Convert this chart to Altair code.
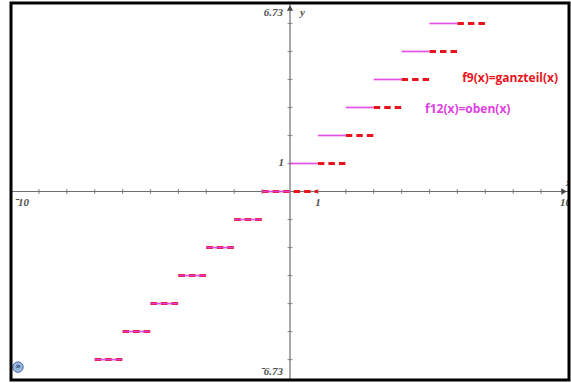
import altair as alt
import pandas as pd

# ---- values ----
x_domain = [-10, 10]
y_domain = [-6.73, 6.73]

# f9(x)=ganzteil(x)  (integer part, red dashed)
ganz_level = [-6, -5, -4, -3, -2, -1, 0, 1, 2, 3, 4, 5, 6]
ganz_from = [-7, -6, -5, -4, -3, -2, -1, 1, 2, 3, 4, 5, 6]
ganz_to = [-6, -5, -4, -3, -2, -1, 1, 2, 3, 4, 5, 6, 7]

# f12(x)=oben(x)  (ceiling, magenta solid)
oben_level = [-6, -5, -4, -3, -2, -1, 0, 1, 2, 3, 4, 5, 6]
oben_from = [-7, -6, -5, -4, -3, -2, -1, 0, 1, 2, 3, 4, 5]
oben_to = [-6, -5, -4, -3, -2, -1, 0, 1, 2, 3, 4, 5, 6]

x_ticks = [-9, -8, -7, -6, -5, -4, -3, -2, -1, 1, 2, 3, 4, 5, 6, 7, 8, 9]
y_ticks = [-6, -5, -4, -3, -2, -1, 1, 2, 3, 4, 5, 6]

RED = "#e8141c"
MAG = "#e040e0"
AX = "#6e6e6e"
LBL = "#505050"

W, H = 558, 377
xs = alt.Scale(domain=x_domain, nice=False, zero=False)
ys = alt.Scale(domain=y_domain, nice=False, zero=False)
X = lambda f: alt.X(f, type="quantitative", scale=xs, axis=None)
Y = lambda f: alt.Y(f, type="quantitative", scale=ys, axis=None)

ganz = pd.DataFrame({"y": ganz_level, "x": ganz_from, "x2": ganz_to})
oben = pd.DataFrame({"y": oben_level, "x": oben_from, "x2": oben_to})
one = pd.DataFrame({"a": [0]})

x_axis = alt.Chart(pd.DataFrame({"x": [x_domain[0]], "x2": [x_domain[1]], "y": [0]})).mark_rule(
    color=AX, strokeWidth=1.2).encode(x=X("x"), x2="x2", y=Y("y"))
y_axis = alt.Chart(pd.DataFrame({"y": [y_domain[0]], "y2": [y_domain[1]], "x": [0]})).mark_rule(
    color=AX, strokeWidth=1.2).encode(y=Y("y"), y2="y2", x=X("x"))
xt = alt.Chart(pd.DataFrame({"x": x_ticks, "y": [0] * len(x_ticks)})).mark_tick(
    orient="vertical", size=5, thickness=1.2, color=AX).encode(x=X("x"), y=Y("y"))
yt = alt.Chart(pd.DataFrame({"y": y_ticks, "x": [0] * len(y_ticks)})).mark_tick(
    orient="horizontal", size=5, thickness=1.2, color=AX).encode(x=X("x"), y=Y("y"))
arrow_up = alt.Chart(pd.DataFrame({"x": [0], "y": [y_domain[1]]})).mark_point(
    shape="triangle-up", filled=True, size=40, color="#444", opacity=1, yOffset=5).encode(x=X("x"), y=Y("y"))
arrow_right = alt.Chart(pd.DataFrame({"x": [x_domain[1]], "y": [0]})).mark_point(
    shape="triangle-right", filled=True, size=40, color="#444", opacity=1, xOffset=-5).encode(x=X("x"), y=Y("y"))

ganz_l = alt.Chart(ganz).mark_rule(color=RED, strokeWidth=3, strokeDash=[6.5, 4], strokeCap="butt").encode(
    x=X("x"), x2="x2", y=Y("y"))
oben_l = alt.Chart(oben).mark_rule(color=MAG, strokeWidth=1.7, opacity=0.9).encode(
    x=X("x"), x2="x2", y=Y("y"))

tfont = dict(font="Liberation Serif", fontStyle="italic", fontWeight="bold", fontSize=11, color=LBL)


def lab(x, y, text, **kw):
    params = dict(tfont)
    params.update(kw)
    return alt.Chart(pd.DataFrame({"x": [x], "y": [y], "t": [text]})).mark_text(**params).encode(
        x=X("x"), y=Y("y"), text="t:N")


labels = [
    lab(0, y_domain[1], "6.73", align="right", baseline="middle", dx=-7, dy=10),
    lab(0, y_domain[1], "y", align="left", baseline="middle", dx=10, dy=10),
    lab(0, 1, "1", align="right", baseline="middle", dx=-6),
    lab(1, 0, "1", align="center", baseline="middle", dy=11),
    lab(x_domain[0], 0, "\u207b10", align="left", baseline="middle", dx=3, dy=11),
    lab(x_domain[1], 0, "10", align="left", baseline="middle", dx=-9, dy=11, clip=True),
    lab(x_domain[1], 0, "x", align="left", baseline="middle", dx=-3, dy=-9, clip=True),
    lab(0, y_domain[0], "\u207b6.73", align="right", baseline="middle", dx=-7, dy=-8),
]

f9 = lab(6.17, 4.05, "f9(x)=ganzteil(x)", font="Open Sans", fontStyle="normal", fontWeight="bold",
         fontSize=12, color=RED, align="left")
f12 = lab(4.84, 2.93, "f12(x)=oben(x)", font="Open Sans", fontStyle="normal", fontWeight="bold",
          fontSize=12, color=MAG, align="left")

icon = alt.Chart(pd.DataFrame({"x": [-9.75], "y": [-6.27]})).mark_point(
    shape="circle", filled=True, size=110, color="#9ab8dc", opacity=1, stroke="#4a6fa5", strokeWidth=1
).encode(x=X("x"), y=Y("y"))
icon_t = lab(-9.75, -6.27, "»", font="DejaVu Sans", fontStyle="normal", fontWeight="bold", fontSize=8,
             color="#1f3f7a", align="center", baseline="middle")

frame = alt.Chart(one).mark_rect(fillOpacity=0, stroke="black", strokeWidth=3).encode(
    x=alt.value(0), x2=alt.value(W), y=alt.value(0), y2=alt.value(H))

chart = alt.layer(
    x_axis, y_axis, xt, yt, arrow_up, arrow_right, ganz_l, oben_l, *labels, f9, f12, icon, icon_t, frame
).properties(
    width=W, height=H,
    padding={"left": 11, "top": 3, "right": 2, "bottom": 3},
    autosize=alt.AutoSizeParams(type="none"),
    background="white",
).configure_view(stroke=None)

chart.save("out.html", embed_options={"renderer": "svg", "actions": False})
